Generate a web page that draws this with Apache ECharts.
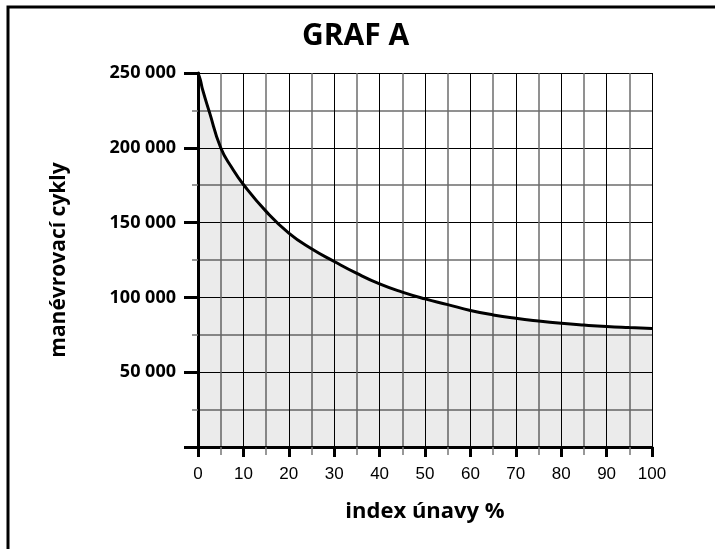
<!DOCTYPE html>
<html>
<head>
<meta charset="utf-8">
<script src="https://cdn.jsdelivr.net/npm/echarts@6/dist/echarts.min.js"></script>
<style>
  html, body { margin: 0; padding: 0; background: #fff; }
  #chart { width: 715px; height: 549px; }
</style>
</head>
<body>
<div id="chart"></div>
<script>
// index únavy (%) and manévrovací cykly
var fatigue = [0, 0.5, 1, 2.5, 5, 7.5, 10, 15, 20, 25, 30, 35, 40, 45, 50, 55, 60, 65, 70, 75, 80, 85, 90, 95, 100];
var cycles = [250000, 245500, 239000, 224000, 200000, 186500, 175500, 157500, 143000, 132500, 124000, 116000, 109000,
              103500, 99000, 95200, 91300, 88300, 86000, 84200, 82700, 81500, 80500, 79800, 79200];
var xTicks = [0, 10, 20, 30, 40, 50, 60, 70, 80, 90, 100];
var yTicks = [50000, 100000, 150000, 200000, 250000];

var points = fatigue.map(function (x, i) { return [x, cycles[i]]; });

var font = '"Open Sans", "Noto Sans", sans-serif';

var option = {
  animation: false,
  title: {
    text: 'GRAF A',
    left: 297,
    top: 16,
    textStyle: { fontFamily: font, fontWeight: 'bold', fontSize: 30, color: '#000' }
  },
  graphic: [{
    type: 'rect',
    shape: { x: 8, y: 7, width: 720, height: 560 },
    style: { fill: 'none', stroke: '#000', lineWidth: 3 },
    silent: true
  }],
  grid: { left: 198, right: 63, top: 73, bottom: 102 },
  xAxis: {
    type: 'value',
    min: 0, max: 100, interval: 10,
    name: 'index únavy %',
    nameLocation: 'middle',
    nameGap: 54,
    nameTextStyle: { fontFamily: font, fontWeight: 'bold', fontSize: 22, color: '#000' },
    axisLine: { show: true, onZero: false, lineStyle: { color: '#000', width: 3 } },
    axisTick: { show: true, length: 10, lineStyle: { color: '#000', width: 3 } },
    minorTick: { show: true, splitNumber: 2, length: 8, lineStyle: { color: '#777', width: 1.5 } },
    axisLabel: {
      margin: 19,
      fontFamily: '"Liberation Sans", Arial, sans-serif',
      fontSize: 17, color: '#000',
      customValues: xTicks
    },
    splitLine: { show: true, lineStyle: { color: '#000', width: 1 } },
    minorSplitLine: { show: true, lineStyle: { color: '#6e6e6e', width: 1.5 } }
  },
  yAxis: {
    type: 'value',
    min: 0, max: 250000, interval: 50000,
    name: 'manévrovací cykly',
    nameLocation: 'middle',
    nameGap: 128,
    nameTextStyle: { fontFamily: font, fontWeight: 'bold', fontSize: 21, color: '#000' },
    axisLine: { show: true, lineStyle: { color: '#000', width: 3 } },
    axisTick: { show: true, length: 14, lineStyle: { color: '#000', width: 3 } },
    minorTick: { show: true, splitNumber: 2, length: 6, lineStyle: { color: '#777', width: 1.5 } },
    axisLabel: {
      margin: 22,
      fontFamily: font, fontWeight: 'bold', fontSize: 18, color: '#000',
      formatter: function (v) {
        if (yTicks.indexOf(v) < 0) return '';
        return String(v).replace(/\B(?=(\d{3})+(?!\d))/g, ' ');
      }
    },
    splitLine: { show: true, lineStyle: { color: '#000', width: 1 } },
    minorSplitLine: { show: true, lineStyle: { color: '#6e6e6e', width: 1.5 } }
  },
  series: [{
    type: 'line',
    data: points,
    smooth: 0.5,
    showSymbol: false,
    lineStyle: { color: '#000', width: 3 },
    areaStyle: { color: 'rgba(0,0,0,0.115)' },
    z: 3
  }]
};

var myChart = echarts.init(document.getElementById('chart'));
myChart.setOption(option);
</script>
</body>
</html>
